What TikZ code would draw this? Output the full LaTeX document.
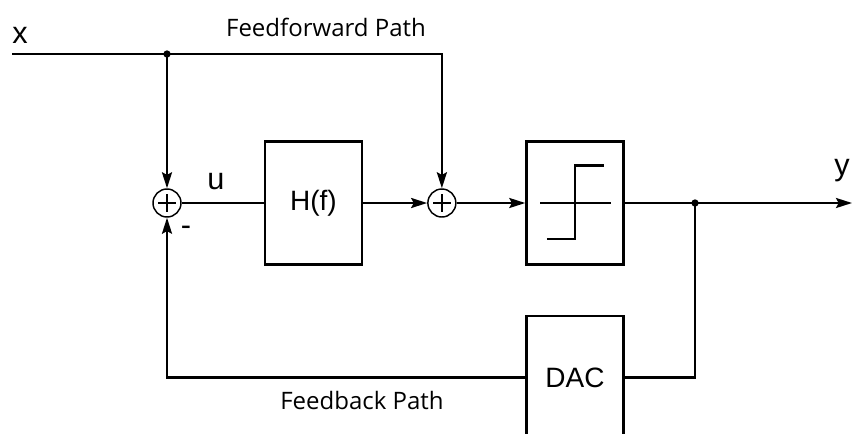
\documentclass[tikz,border=0pt]{standalone}
\usepackage{fontspec}
\setmainfont{Liberation Sans}
\newfontfamily\pathfont{Open Sans}
\usetikzlibrary{positioning, arrows.meta}

\begin{document}
\begin{tikzpicture}[
    x = 0.75pt, y = -0.75pt,
    every node/.style = {font=\fontsize{21}{24}\selectfont},
    line width = 1.8pt,
    blk/.style     = {rectangle, draw, line width=1.8pt,
                      minimum width=72.75pt, minimum height=92.25pt,
                      inner sep=0pt},
    sumnode/.style = {circle, draw, line width=1.1pt, minimum size=21pt,
                      inner sep=0pt,
                      path picture={
                        \draw[line width=1.3pt]
                          ([xshift=-6.5pt]path picture bounding box.center)
                          -- ([xshift=6.5pt]path picture bounding box.center);
                        \draw[line width=1.3pt]
                          ([yshift=-6.5pt]path picture bounding box.center)
                          -- ([yshift=6.5pt]path picture bounding box.center);}},
    sig/.style     = {font=\fontsize{23}{26}\selectfont, inner sep=0pt},
    pathlbl/.style = {font=\pathfont\fontsize{18}{21}\selectfont, inner sep=0pt},
    dot/.style     = {circle, fill, minimum size=5.5pt, inner sep=0pt},
    arr/.style     = {-{Stealth[length=12pt, width=7.5pt, inset=2pt]}}
]
\useasboundingbox (0,0) rectangle (855,433);

% forward chain
\node[sumnode] (s1) at (167,203) {};
\node[blk, right = 61.5pt of s1]   (hf)  {H(f)};
\node[sumnode, right = 48pt of hf] (s2)  {};
\node[blk, right = 51.5pt of s2]   (qz)  {};
\node[blk, below = 36.75pt of qz]  (dac) {DAC};

% step symbol inside the quantizer
\draw ([xshift=-26pt]qz.center) -- ([xshift=27pt]qz.center);
\draw ([xshift=-21pt,yshift=-27pt]qz.center) -- ([yshift=-27pt]qz.center)
      -- ([yshift=28pt]qz.center) -- ([xshift=22pt,yshift=28pt]qz.center);

% input and feedforward
\coordinate (xin)  at (12,54);
\coordinate (split) at (s1 |- xin);
\coordinate (yout) at (852,203);
\coordinate (tap)  at (695,203);
\node[dot] (d1) at (split) {};
\node[dot] (d2) at (tap) {};

\draw (xin) -- (split);
\draw[arr] (split) -| (s2.north);
\draw[arr] (split) -- (s1.north);
\draw (s1.east) -- (hf.west);
\draw[arr] (hf.east) -- (s2.west);
\draw[arr] (s2.east) -- (qz.west);
\draw[arr] (qz.east) -- (yout);

% feedback
\draw (tap) |- (dac.east);
\draw[arr] (dac.west) -| (s1.south);

% labels
\node[sig] (lx) at (20,35) {x};
\node[sig] (lu) at (216,182) {u};
\node[sig] (ly) at (842,171) {y};
\node[sig] (lm) at (186,231) {-};
\node[pathlbl] (ff) at (326,27)  {Feedforward Path};
\node[pathlbl] (fb) at (362,400) {Feedback Path};
\end{tikzpicture}
\end{document}
